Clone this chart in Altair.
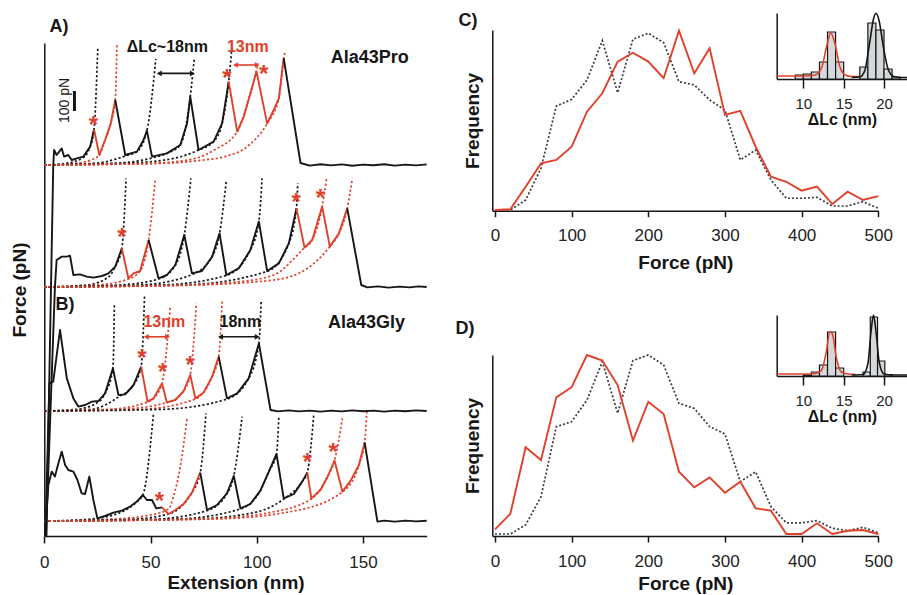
import altair as alt
import pandas as pd

FONT = "Liberation Sans"
RED = "#e0402a"
BLK = "#161616"
DOT = "#3a3a3a"
BAR_FILL = "#d4d8db"
COLORS = {"k": BLK, "r": RED}

# ---------------- Panels A/B : force-extension traces ----------------
TRACE_BASE = [1855, 1245, 625, 75]  # vertical stacking offsets of the four traces (pN)

TRACE1 = [
    ("k", [(1.0, -1855), (4.2, -8), (4.6, 75), (5.8, 50), (8.2, 83), (9.3, 42), (11.3, 50), (12.9, 25),
           (15.3, 33), (18.4, 42), (21.6, 92), (23.4, 178)]),
    ("r", [(23.4, 178), (25.9, 50), (28.6, 125), (31.3, 208), (33.4, 325)]),
    ("k", [(33.4, 325), (38.1, 50), (43.6, 67), (46.7, 125), (48.3, 172), (50.7, 42), (57.7, 58), (64, 100),
           (67.2, 208), (68.7, 342), (72.6, 75), (79.7, 117), (83.7, 208), (86.8, 417)]),
    ("r", [(86.8, 417), (90.8, 167), (93.9, 242), (97, 358), (99.9, 467), (104.9, 208), (108, 275),
           (110.4, 333), (112.7, 533)]),
    ("k", [(112.7, 533), (120.6, 10), (125, -3), (130, 4), (135, -2), (140, 3), (145, -4), (150, 2),
           (155, -1), (160, 4), (165, -3), (170, 2), (175, -2), (180, 3)]),
]
TRACE2 = [
    ("k", [(0.8, -1245), (5, 0), (5.8, 135), (8.2, 152), (10.6, 152), (12.1, 157), (13.7, 60), (16.8, 63),
           (20, 52), (23.1, 47), (27.1, 55), (30.2, 68), (33.4, 102), (36.5, 193)]),
    ("r", [(36.5, 193), (39.6, 43), (42, 68), (45.1, 80), (49.1, 235)]),
    ("k", [(49.1, 235), (53.8, 43), (57.7, 60), (61.7, 110), (65.9, 260), (69.5, 68), (74.2, 80), (79, 152),
           (82.5, 268), (85.7, 60), (91.5, 93), (97, 185), (101, 327), (104.9, 80), (110.4, 118),
           (115.1, 218), (118.7, 393)]),
    ("r", [(118.7, 393), (122.5, 197), (126.1, 235), (130.8, 402), (134.4, 202), (138.7, 268), (142.6, 393)]),
    ("k", [(142.6, 393), (149.2, 10), (152, -2), (157, 3), (162, -3), (167, 2), (172, -2), (176, 3), (180, 0)]),
]
TRACE3 = [
    ("k", [(0.5, -625), (2.4, 138), (4.2, 147), (7.4, 405), (10.6, 163), (13.7, 63), (16, 22), (19.2, 30),
           (22.4, 47), (25.5, 50), (28.6, 88), (32.3, 213), (34.9, 80), (38.1, 83), (42, 130), (45.6, 222)]),
    ("r", [(45.6, 222), (48.6, 47), (51.4, 63), (55.4, 138), (57.7, 43), (61.7, 55), (65.6, 100), (68.7, 180),
           (71.1, 63), (75, 93), (79, 172), (82.1, 272)]),
    ("k", [(82.1, 272), (86, 63), (90.8, 88), (96.2, 163), (101, 338), (106.5, 5), (110, -2), (115, 3),
           (120, -2), (125, 2), (130, -3), (135, 2), (140, -2), (145, 3), (150, -1), (155, 2), (160, -3),
           (165, 2), (170, -1), (175, 3), (180, 0)]),
]
TRACE4 = [
    ("k", [(0.3, -75), (1.9, 180), (3.5, 247), (5, 222), (6.6, 288), (8.2, 347), (9.8, 280), (11.3, 255),
           (13.7, 247), (15.6, 205), (17.6, 138), (19.2, 135), (21.2, 222), (23.1, 105), (25, 13), (28.6, 25),
           (32.5, 42), (36.5, 52), (40.4, 72), (43.6, 97), (46.4, 130), (48.3, 105), (50.7, 105), (52.7, 63),
           (55.4, 68)]),
    ("r", [(55.4, 68), (58.5, 35), (61.7, 55), (65.6, 85), (69.5, 142), (73.4, 242)]),
    ("k", [(73.4, 242), (76.6, 55), (81.3, 80), (86, 138), (89.2, 225), (92.3, 63), (97, 85), (101.7, 152),
           (105.7, 247), (109.3, 335), (112.7, 113), (117.5, 135), (121.4, 197), (123.8, 242)]),
    ("r", [(123.8, 242), (125.7, 113), (130, 155), (133.5, 225), (136.6, 302), (140.3, 147), (144.2, 202),
           (148.1, 280), (150.8, 392)]),
    ("k", [(150.8, 392), (156.8, -3), (160, 2), (165, -3), (170, 2), (175, -2), (180, 1)]),
]
TRACES = [TRACE1, TRACE2, TRACE3, TRACE4]

FITS1 = [
    ("k", [(0, 0), (10, 8), (18, 35), (21.6, 92), (23.4, 178), (25.2, 592)]),
    ("r", [(0, 0), (14, 8), (22, 25), (25.9, 50), (28.6, 125), (31.3, 208), (33.4, 325), (34.2, 608)]),
    ("k", [(0, 0), (25, 10), (38.1, 45), (43.6, 67), (48.3, 172), (52.5, 530)]),
    ("k", [(0, 0), (35, 10), (50.7, 35), (57.7, 58), (64, 100), (68.7, 342), (70.6, 533)]),
    ("k", [(0, 0), (40, 10), (60.9, 33), (72.6, 75), (79.7, 117), (83.7, 208), (86.8, 417), (88.4, 600)]),
    ("r", [(0, 0), (50, 8), (70, 30), (80, 75), (90.8, 167), (97, 358), (100.7, 508)]),
    ("r", [(0, 0), (55, 8), (75, 25), (85, 42), (95.5, 92), (104.9, 208), (110.4, 333), (112.7, 533), (113.2, 560)]),
]
FITS2 = [
    ("k", [(0, 0), (20, 10), (30.2, 50), (33.4, 102), (36.5, 193), (38.5, 543)]),
    ("r", [(0, 0), (25, 10), (39.6, 40), (45.1, 80), (49.1, 235), (52.2, 535)]),
    ("k", [(0, 0), (35, 10), (53.8, 40), (61.7, 110), (65.9, 260), (69, 543)]),
    ("k", [(0, 0), (45, 10), (69.5, 62), (79, 152), (82.5, 268), (85.7, 535)]),
    ("k", [(0, 0), (55, 10), (85.7, 58), (97, 185), (101, 327), (102.5, 543)]),
    ("k", [(0, 0), (65, 10), (104.9, 78), (115.1, 218), (118.7, 393), (119.3, 518)]),
    ("r", [(0, 0), (60, 8), (92, 27), (108, 60), (122.5, 197), (126.1, 235), (130.8, 402), (132.9, 543)]),
    ("r", [(0, 0), (65, 8), (108, 35), (123.8, 93), (134.4, 202), (138.7, 268), (142.6, 393), (145, 543)]),
]
FITS3 = [
    ("k", [(0, 0), (15, 8), (25.5, 45), (28.6, 88), (32.3, 213), (33, 538)]),
    ("k", [(0, 0), (22, 8), (34.9, 70), (42, 130), (45.6, 222), (47.2, 580)]),
    ("r", [(0, 0), (30, 8), (48.6, 45), (51.4, 63), (55.4, 138), (59.3, 522)]),
    ("r", [(0, 0), (35, 8), (57.7, 42), (65.6, 100), (68.7, 180), (71.6, 538)]),
    ("r", [(0, 0), (45, 8), (71.1, 60), (79, 172), (82.1, 272), (83.7, 547)]),
    ("k", [(0, 0), (55, 8), (86, 60), (96.2, 163), (101, 338), (102.1, 555)]),
]
FITS4 = [
    ("k", [(0, 0), (20, 8), (36.5, 45), (43.6, 97), (46.4, 130), (51.4, 538)]),
    ("r", [(0, 0), (30, 8), (50, 30), (58.5, 60), (60.8, 122), (64, 272), (67.2, 513)]),
    ("k", [(0, 0), (40, 8), (58.5, 35), (65.6, 85), (69.5, 142), (73.4, 242), (76.1, 538)]),
    ("k", [(0, 0), (50, 8), (76.6, 52), (86, 138), (89.2, 225), (93.1, 522)]),
    ("k", [(0, 0), (60, 8), (92.3, 60), (101.7, 152), (105.7, 247), (109.3, 335), (110.4, 522)]),
    ("k", [(0, 0), (70, 10), (100, 45), (112.7, 110), (121.4, 197), (123.8, 242), (126.9, 538)]),
    ("r", [(0, 0), (75, 10), (105, 40), (125.7, 110), (133.5, 225), (136.6, 302), (140.3, 513)]),
    ("r", [(0, 0), (80, 10), (115, 45), (140.3, 145), (148.1, 280), (150.8, 392), (151.8, 547)]),
]
FITS = [FITS1, FITS2, FITS3, FITS4]

STARS = [
    [(23.1, 225), (86, 458), (103.3, 478)],
    [(36.5, 277), (118.6, 448), (130, 468)],
    [(45.9, 288), (55.7, 222), (68.7, 255)],
    [(54.2, 125), (123.8, 318), (136, 368)],
]

ARROWS = [  # x0, x1, y, color
    (54.1, 69.7, 2313, "k"),
    (90.0, 100.2, 2355, "r"),
    (48.0, 58.0, 996, "r"),
    (83.0, 100.2, 996, "k"),
]
LEFT_TEXT = [  # text, x, y, color, size
    ("A)", 6.9, 2545, "k", 18),
    ("B)", 9.8, 1155, "k", 18),
    ("\u0394Lc~18nm", 57.9, 2445, "k", 16),
    ("13nm", 95.8, 2445, "r", 16),
    ("Ala43Pro", 153.2, 2390, "k", 18),
    ("13nm", 56.5, 1070, "r", 16),
    ("18nm", 92.3, 1070, "k", 16),
    ("Ala43Gly", 151.7, 1065, "k", 18),
]
SCALE_BAR = (14.2, 2125, 2225)
SCALE_LABEL = ("100 pN", 9.9, 2178)

# ---------------- Panels C/D ----------------
FORCE = list(range(0, 501, 20))
C_RED = [0.4, 0.8, 13.3, 26.2, 28.1, 35.4, 54.8, 65, 82.5, 87.4, 82.5, 73.3, 99.6, 76, 89.9, 53, 55.3, 35.4,
         18.8, 16, 11.1, 13.3, 3.7, 10.5, 5.9, 8.1]
C_BLK = [0.4, 0.4, 5.9, 23.5, 57.9, 61.6, 72.3, 94.1, 65.3, 94.9, 98.2, 93, 71.4, 69.6, 61.3, 55.7, 28.1, 33.6,
         17, 6.9, 6.9, 7.4, 2.6, 2.6, 5, 1.3]
D_RED = [3.7, 12.2, 49, 42, 76.6, 82.2, 100, 96.9, 83.4, 52.7, 74.2, 67.4, 35.5, 26.9, 32.4, 23.9, 30, 15.3,
         14, 1.1, 1.1, 7, 1.1, 2.9, 3.3, 1.1]
D_BLK = [1.1, 1.1, 6.1, 21.7, 60.4, 63.2, 75.1, 96.3, 67.8, 96.9, 100, 94.5, 73.3, 70.5, 60.4, 56.4, 30, 35.5,
         16.2, 7.3, 7.3, 8.5, 4.3, 2.9, 4.8, 1.8]

C_BINS = [(9, 10, 4), (10, 11, 5), (11, 12, 7), (12, 13, 17), (13, 14, 47), (14, 15, 17),
          (17, 18, 12), (18, 19, 56), (19, 20, 49), (20, 21, 10), (21, 22, 2)]
C_FIT_RED = [(6.7, 3), (10, 3), (11.5, 4), (12.3, 12), (12.9, 33), (13.4, 46), (13.9, 36), (14.5, 13),
             (15.2, 4), (16, 2.5), (17, 2.5)]
C_FIT_BLK = [(16, 1.5), (17, 2), (17.6, 8), (18.2, 35), (18.7, 60), (19, 65.7), (19.4, 58), (19.9, 33),
             (20.5, 10), (21.2, 2.5), (22, 1.5), (22.85, 1.5)]
D_BINS = [(10, 11, 1), (11, 12, 4), (12, 13, 11), (13, 14, 44), (14, 15, 8),
          (17.4, 18.3, 4), (18.3, 19.2, 59), (19.2, 20.1, 15), (20.1, 21, 1.5)]
D_FIT_RED = [(6.7, 2), (11, 2), (12.2, 5), (12.8, 22), (13.3, 44), (13.6, 42), (14.1, 18), (14.7, 4),
             (15.5, 2), (16.5, 1.5)]
D_FIT_BLK = [(16, 1), (17.4, 1.5), (18, 12), (18.4, 45), (18.7, 61), (19, 45), (19.4, 14), (20, 2), (21, 1),
             (22.85, 1)]

# ---------------- tables ----------------
rows = []
for ti, segs in enumerate(TRACES):
    for si, (c, pts) in enumerate(segs):
        for i, (x, f) in enumerate(pts):
            rows.append({"x": x, "y": f + TRACE_BASE[ti], "g": f"T{ti}S{si}", "col": COLORS[c], "i": i})
trace_df = pd.DataFrame(rows)

rows = []
for ti, fits in enumerate(FITS):
    for si, (c, pts) in enumerate(fits):
        for i, (x, f) in enumerate(pts):
            rows.append({"x": x, "y": f + TRACE_BASE[ti], "g": f"F{ti}S{si}", "col": COLORS[c], "i": i})
fit_df = pd.DataFrame(rows)

star_df = pd.DataFrame([{"x": x, "y": f + TRACE_BASE[ti]} for ti, st in enumerate(STARS) for x, f in st])
arrow_df = pd.DataFrame([{"x0": a, "x1": b, "y": y, "col": COLORS[c]} for a, b, y, c in ARROWS])
head_df = pd.DataFrame(
    [{"x": a, "y": y, "col": COLORS[c], "shape": "triangle-left"} for a, b, y, c in ARROWS]
    + [{"x": b, "y": y, "col": COLORS[c], "shape": "triangle-right"} for a, b, y, c in ARROWS])
text_df = pd.DataFrame([{"txt": t, "x": x, "y": y, "col": COLORS[c], "size": s} for t, x, y, c, s in LEFT_TEXT])
bar_df = pd.DataFrame([{"x": SCALE_BAR[0], "y0": SCALE_BAR[1], "y1": SCALE_BAR[2]}])
sl_df = pd.DataFrame([{"txt": SCALE_LABEL[0], "x": SCALE_LABEL[1], "y": SCALE_LABEL[2]}])


def sc(domain, rng):
    return alt.Scale(domain=domain, range=rng, nice=False, zero=False)


AX = dict(grid=False, domainColor=BLK, domainWidth=1.5, tickColor=BLK, tickWidth=1.5, labelColor="#222",
          titleColor=BLK, labelFont=FONT, titleFont=FONT, titleFontWeight="bold", labelFlush=False,
          labelOverlap=False)
H = 595
layers = []

# ---- left panel
LX = sc([0, 180], [44.3, 426.7])
LY = sc([0, 2465], [536, 43])
lx_axis = alt.Axis(orient="bottom", offset=536 - H, values=[0, 50, 100, 150], tickSize=7, labelFontSize=17,
                   labelPadding=11, titleFontSize=19, titlePadding=3, title="Extension (nm)", **AX)
ly_axis = alt.Axis(orient="left", offset=-44.3, ticks=False, labels=False, title="Force (pN)",
                   titleFontSize=19, titlePadding=15, **AX)

layers.append(alt.Chart(fit_df).mark_line(strokeDash=[2.2, 2.2], strokeWidth=1.7, interpolate="monotone").encode(
    x=alt.X("x:Q", scale=LX, axis=None), y=alt.Y("y:Q", scale=LY, axis=None),
    detail="g:N", order="i:Q", color=alt.Color("col:N", scale=None)))
layers.append(alt.Chart(trace_df).mark_line(strokeWidth=1.9, strokeJoin="round").encode(
    x=alt.X("x:Q", scale=LX, axis=lx_axis), y=alt.Y("y:Q", scale=LY, axis=ly_axis),
    detail="g:N", order="i:Q", color=alt.Color("col:N", scale=None)))
layers.append(alt.Chart(star_df).mark_text(text="*", fontSize=24, fontWeight="bold", color=RED, dy=6,
                                           font=FONT).encode(
    x=alt.X("x:Q", scale=LX, axis=None), y=alt.Y("y:Q", scale=LY, axis=None)))
layers.append(alt.Chart(arrow_df).mark_rule(strokeWidth=1.6).encode(
    x=alt.X("x0:Q", scale=LX, axis=None), x2="x1:Q", y=alt.Y("y:Q", scale=LY, axis=None),
    color=alt.Color("col:N", scale=None)))
layers.append(alt.Chart(head_df).mark_point(filled=True, size=32, opacity=1).encode(
    x=alt.X("x:Q", scale=LX, axis=None), y=alt.Y("y:Q", scale=LY, axis=None),
    color=alt.Color("col:N", scale=None), shape=alt.Shape("shape:N", scale=None)))
layers.append(alt.Chart(text_df).mark_text(fontWeight="bold", font=FONT, baseline="middle").encode(
    x=alt.X("x:Q", scale=LX, axis=None), y=alt.Y("y:Q", scale=LY, axis=None), text="txt:N",
    color=alt.Color("col:N", scale=None), size=alt.Size("size:Q", scale=None)))
layers.append(alt.Chart(bar_df).mark_rule(strokeWidth=3, color=BLK).encode(
    x=alt.X("x:Q", scale=LX, axis=None), y=alt.Y("y0:Q", scale=LY, axis=None), y2="y1:Q"))
layers.append(alt.Chart(sl_df).mark_text(angle=270, fontSize=14, font=FONT, color=BLK, baseline="middle").encode(
    x=alt.X("x:Q", scale=LX, axis=None), y=alt.Y("y:Q", scale=LY, axis=None), text="txt:N"))


# ---- C / D panels
def hist_panel(red, blk, y_bottom, y_top, label, label_xy, title_pad):
    X = sc([-3.5, 500], [492.3, 878.3])
    Y = sc([0, 100], [y_bottom, y_top])
    df = pd.DataFrame({"F": FORCE, "red": red, "blk": blk})
    xa = alt.Axis(orient="bottom", offset=y_bottom - H, values=[0, 100, 200, 300, 400, 500], tickSize=6,
                  labelFontSize=17, labelPadding=11, titleFontSize=19, titlePadding=title_pad,
                  title="Force (pN)", **AX)
    ya = alt.Axis(orient="left", offset=-492.3, ticks=False, labels=False, title="Frequency",
                  titleFontSize=19, titlePadding=10, **AX)
    out = [
        alt.Chart(df).mark_line(strokeDash=[2, 2], strokeWidth=1.7, color=DOT).encode(
            x=alt.X("F:Q", scale=X, axis=None), y=alt.Y("blk:Q", scale=Y, axis=None)),
        alt.Chart(df).mark_line(strokeWidth=1.9, color=RED).encode(
            x=alt.X("F:Q", scale=X, axis=xa), y=alt.Y("red:Q", scale=Y, axis=ya)),
    ]
    ldf = pd.DataFrame([{"txt": label, "x": label_xy[0], "y": label_xy[1]}])
    out.append(alt.Chart(ldf).mark_text(fontSize=18, fontWeight="bold", font=FONT, color=BLK,
                                        baseline="middle").encode(
        x=alt.X("x:Q", scale=X, axis=None), y=alt.Y("y:Q", scale=Y, axis=None), text="txt:N"))
    return out


def inset(bins, fit_red, fit_blk, y_bottom, y_top, ymax):
    X = sc([6.7, 22.85], [776.7, 907])
    Y = sc([0, ymax], [y_bottom, y_top])
    xa = alt.Axis(orient="bottom", offset=y_bottom - H, values=[10, 15, 20], tickSize=9, labelFontSize=15,
                  labelPadding=8, titleFontSize=16, titlePadding=0, title="\u0394Lc (nm)", **AX)
    ya = alt.Axis(orient="left", offset=-776.7, ticks=False, labels=False, title=None, **AX)
    bdf = pd.DataFrame([{"b0": a, "b1": b, "h": h, "z": 0} for a, b, h in bins])
    rdf = pd.DataFrame(fit_red, columns=["x", "y"])
    kdf = pd.DataFrame(fit_blk, columns=["x", "y"])
    return [
        alt.Chart(bdf).mark_bar(fill=BAR_FILL, stroke=BLK, strokeWidth=1.2).encode(
            x=alt.X("b0:Q", scale=X, axis=xa), x2="b1:Q",
            y=alt.Y("h:Q", scale=Y, axis=ya), y2="z:Q"),
        alt.Chart(rdf).mark_line(strokeWidth=1.6, color=RED, interpolate="monotone").encode(
            x=alt.X("x:Q", scale=X, axis=None), y=alt.Y("y:Q", scale=Y, axis=None)),
        alt.Chart(kdf).mark_line(strokeWidth=1.6, color=BLK, interpolate="monotone").encode(
            x=alt.X("x:Q", scale=X, axis=None), y=alt.Y("y:Q", scale=Y, axis=None)),
    ]


layers += hist_panel(C_RED, C_BLK, 210.7, 30, "C)", (-35.2, 105), 10)
layers += hist_panel(D_RED, D_BLK, 536, 355, "D)", (-39.2, 114.4), 5)
layers += inset(C_BINS, C_FIT_RED, C_FIT_BLK, 79, 13, 66)
layers += inset(D_BINS, D_FIT_RED, D_FIT_BLK, 376, 315, 61)

chart = alt.layer(*layers).resolve_scale(
    x="independent", y="independent"
).resolve_axis(
    x="independent", y="independent"
).properties(
    width=907, height=595, autosize=alt.AutoSizeParams(type="none"), padding=0, background="white"
).configure_view(stroke=None).configure_axis(grid=False)

chart.save("out.html", embed_options={"renderer": "svg", "actions": False})
